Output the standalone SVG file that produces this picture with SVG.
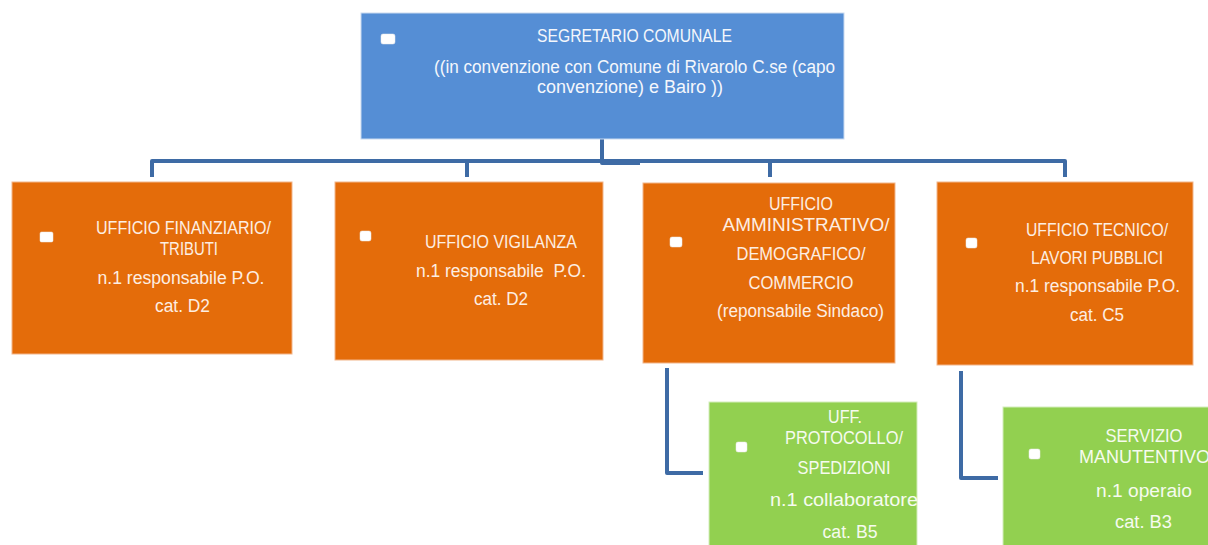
<svg xmlns="http://www.w3.org/2000/svg" width="1208" height="545" viewBox="0 0 1208 545">
  <style>
    text { font-family: "Liberation Sans", Arial, sans-serif; font-size: 18px; text-anchor: middle; }
    .tb { fill: #F4F7FC; }
    .to { fill: #FDEEE2; }
    .tg { fill: #F6FBEF; }
    .blue { fill: #558ED5; stroke: #C9DAF0; stroke-width: 1; }
    .orange { fill: #E46C0A; stroke: #F2B58A; stroke-width: 1; }
    .green { fill: #92D050; stroke: #D3EDBB; stroke-width: 1; }
    .icon { fill: #FFFFFF; stroke: #E8E8E8; stroke-width: 0.5; }
    .conn { fill: none; stroke: #3E6BA5; stroke-width: 4; stroke-linejoin: round; stroke-linecap: butt; }
  </style>
  <rect width="1208" height="545" fill="#FFFFFF"/>

  <g id="connectors">
    <path class="conn" d="M152,177 V161 H1065 V177"/>
    <path class="conn" d="M602,139 V163 H640"/>
    <path class="conn" d="M467,161 V177"/>
    <path class="conn" d="M770,161 V177"/>
    <path class="conn" d="M667,368 V473 H703"/>
    <path class="conn" d="M961,371 V478 H998"/>
  </g>

  <g id="segretario">
    <rect class="blue" x="361" y="13" width="483" height="126"/>
    <rect class="icon" x="381" y="34" width="14" height="10" rx="2"/>
    <text class="tb" x="634.5" y="42" textLength="195" lengthAdjust="spacingAndGlyphs">SEGRETARIO COMUNALE</text>
    <text class="tb" x="634.5" y="73" textLength="401" lengthAdjust="spacingAndGlyphs">((in convenzione con Comune di Rivarolo C.se (capo</text>
    <text class="tb" x="630" y="93" textLength="186" lengthAdjust="spacingAndGlyphs">convenzione) e Bairo ))</text>
  </g>

  <g id="finanziario">
    <rect class="orange" x="12" y="182" width="280" height="172"/>
    <rect class="icon" x="40" y="232" width="13" height="10" rx="1.5"/>
    <text class="to" x="183.5" y="234" textLength="175" lengthAdjust="spacingAndGlyphs">UFFICIO FINANZIARIO/</text>
    <text class="to" x="189" y="255" textLength="58" lengthAdjust="spacingAndGlyphs">TRIBUTI</text>
    <text class="to" x="181" y="284" textLength="167" lengthAdjust="spacingAndGlyphs">n.1 responsabile P.O.</text>
    <text class="to" x="182.5" y="312" textLength="55" lengthAdjust="spacingAndGlyphs">cat. D2</text>
  </g>

  <g id="vigilanza">
    <rect class="orange" x="335" y="182" width="268" height="178"/>
    <rect class="icon" x="360" y="231" width="11" height="10" rx="2"/>
    <text class="to" x="501" y="248" textLength="152" lengthAdjust="spacingAndGlyphs">UFFICIO VIGILANZA</text>
    <text class="to" x="501" y="277" textLength="170" lengthAdjust="spacingAndGlyphs" xml:space="preserve">n.1 responsabile  P.O.</text>
    <text class="to" x="501" y="305" textLength="54" lengthAdjust="spacingAndGlyphs">cat. D2</text>
  </g>

  <g id="amministrativo">
    <rect class="orange" x="643" y="183" width="252" height="180"/>
    <rect class="icon" x="670" y="237" width="12" height="10" rx="2"/>
    <text class="to" x="801" y="210" textLength="64" lengthAdjust="spacingAndGlyphs">UFFICIO</text>
    <text class="to" x="806" y="231" textLength="167" lengthAdjust="spacingAndGlyphs">AMMINISTRATIVO/</text>
    <text class="to" x="801" y="260" textLength="129" lengthAdjust="spacingAndGlyphs">DEMOGRAFICO/</text>
    <text class="to" x="801" y="289" textLength="105" lengthAdjust="spacingAndGlyphs">COMMERCIO</text>
    <text class="to" x="800.5" y="317" textLength="167" lengthAdjust="spacingAndGlyphs">(reponsabile Sindaco)</text>
  </g>

  <g id="tecnico">
    <rect class="orange" x="937" y="182" width="256" height="183"/>
    <rect class="icon" x="966" y="238" width="11" height="10" rx="2"/>
    <text class="to" x="1097" y="236" textLength="142" lengthAdjust="spacingAndGlyphs">UFFICIO TECNICO/</text>
    <text class="to" x="1097" y="264" textLength="132" lengthAdjust="spacingAndGlyphs">LAVORI PUBBLICI</text>
    <text class="to" x="1097.5" y="292" textLength="165" lengthAdjust="spacingAndGlyphs">n.1 responsabile P.O.</text>
    <text class="to" x="1097" y="321" textLength="54" lengthAdjust="spacingAndGlyphs">cat. C5</text>
  </g>

  <g id="protocollo">
    <rect class="green" x="709" y="402" width="208" height="145"/>
    <rect class="icon" x="736" y="442" width="11" height="10" rx="2"/>
    <text class="tg" x="845" y="423" textLength="34" lengthAdjust="spacingAndGlyphs">UFF.</text>
    <text class="tg" x="844" y="444" textLength="118" lengthAdjust="spacingAndGlyphs">PROTOCOLLO/</text>
    <text class="tg" x="844" y="474" textLength="93" lengthAdjust="spacingAndGlyphs">SPEDIZIONI</text>
    <text class="tg" x="844" y="506" textLength="148" lengthAdjust="spacingAndGlyphs">n.1 collaboratore</text>
    <text class="tg" x="850" y="538" textLength="55" lengthAdjust="spacingAndGlyphs">cat. B5</text>
  </g>

  <g id="manutentivo">
    <rect class="green" x="1003" y="407" width="210" height="140"/>
    <rect class="icon" x="1029" y="449" width="11" height="10" rx="2"/>
    <text class="tg" x="1144" y="442" textLength="77" lengthAdjust="spacingAndGlyphs">SERVIZIO</text>
    <text class="tg" x="1144.5" y="463" textLength="131" lengthAdjust="spacingAndGlyphs">MANUTENTIVO</text>
    <text class="tg" x="1144" y="497" textLength="96" lengthAdjust="spacingAndGlyphs">n.1 operaio</text>
    <text class="tg" x="1143.5" y="528" textLength="57" lengthAdjust="spacingAndGlyphs">cat. B3</text>
  </g>
</svg>
